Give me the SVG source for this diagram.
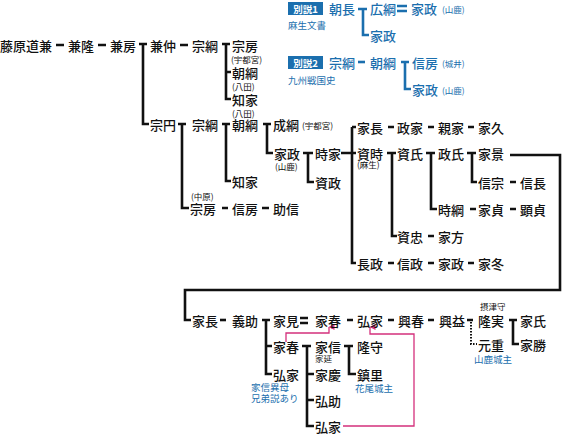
<svg xmlns="http://www.w3.org/2000/svg" width="565" height="435" viewBox="0 0 565 435">
<defs>
<style>
text{font-family:"Noto Sans CJK JP","Noto Sans CJK SC",sans-serif;dominant-baseline:central}
.t{font-size:13px;fill:#111;font-weight:500}
.s{font-size:8.5px;fill:#111}
.bt{font-size:13px;fill:#1b6fae;font-weight:500}
.bs{font-size:9.5px;fill:#1b6fae}
.bp{font-size:8.5px;fill:#1b6fae}
.bx{font-size:9.5px;fill:#fff;font-weight:bold;text-anchor:middle}
.ln{stroke:#111;stroke-width:2.6;fill:none}
.bl{stroke:#1b6fae;stroke-width:2.6;fill:none}
.pk{stroke:#d4307c;stroke-width:1.3;fill:none}
.dt{stroke:#111;stroke-width:2;fill:none;stroke-dasharray:1.5 1.5}
</style>
<marker id="ah" viewBox="0 0 6 6" refX="3" refY="0.5" markerWidth="6" markerHeight="6" orient="auto-start-reverse" markerUnits="userSpaceOnUse">
<path d="M0,6 L3,0 L6,6 Z" fill="#d4307c"/>
</marker>
</defs>
<rect width="565" height="435" fill="#fff"/>

<g id="connectors">
<path class="ln" d="M56,45H64M98,45H106M180,45H188"/>
<path class="ln" d="M139,44H147M143,44V124H149"/>
<path class="ln" d="M222,44H230M226,44V99H231M226,72H231"/>
<path class="ln" d="M178,124H186M182,124V208H189"/>
<path class="ln" d="M222,124H230M226,124V181H231"/>
<path class="ln" d="M263,124H271M267,124V153H273"/>
<path class="ln" d="M303,153H313M308,153V182H314"/>
<path class="ln" d="M222,208H228M262,208H269"/>
<path class="ln" d="M341,153H356M352,127H356M352,127V263H356"/>
<path class="ln" d="M388,127H394M428,127H434M468,127H474"/>
<path class="ln" d="M387,153H396M392,153V236H397"/>
<path class="ln" d="M426,153H435M431,153V209H437"/>
<path class="ln" d="M467,153H476M472,153V182H477"/>
<path class="ln" d="M510,182H516M470,209H476M510,209H516M428,236H434"/>
<path class="ln" d="M388,263H394M428,263H434M468,263H474"/>
<path class="ln" d="M510,155H560V290H185V320H191"/>
<path class="ln" d="M220,320H226"/>
<path class="ln" d="M262,320H270M266,320V374H272M266,346H272"/>
<path class="ln" d="M300,318H308M300,323H308"/>
<path class="ln" d="M347,320H353M388,320H394M428,320H434M467,320H473"/>
<path class="dt" d="M471,322V344H477"/>
<path class="ln" d="M509,320H517M513,320V344H519"/>
<path class="ln" d="M302,346H311M307,346V426H314M307,374H314M307,400H314"/>
<path class="ln" d="M344,346H353M349,346V374H356"/>
<path class="pk" d="M286,342V333H329V327" marker-end="url(#ah)"/>
<path class="pk" d="M343,426H414V334H370V327" marker-end="url(#ah)"/>
<path class="bl" d="M358,9H367M363,9V35H369"/>
<path class="bl" d="M397,6H407M397,11H407"/>
<path class="bl" d="M358,62H365"/>
<path class="bl" d="M401,62H409M405,62V89H411"/>
</g>

<g id="n1"><text class="t" x="0" y="45">藤原道兼</text></g>
<g id="n2"><text class="t" x="68" y="45">兼隆</text></g>
<g id="n3"><text class="t" x="110" y="45">兼房</text></g>
<g id="n4"><text class="t" x="150" y="45">兼仲</text></g>
<g id="n5"><text class="t" x="192" y="45">宗綱</text></g>
<g id="n6"><text class="t" x="232" y="45">宗房</text><text class="s" x="231" y="59">(宇都宮)</text></g>
<g id="n7"><text class="t" x="232" y="72">朝綱</text><text class="s" x="232" y="86">(八田)</text></g>
<g id="n8"><text class="t" x="232" y="99">知家</text><text class="s" x="232" y="113">(八田)</text></g>

<g id="n9"><text class="t" x="150" y="124">宗円</text></g>
<g id="n10"><text class="t" x="192" y="124">宗綱</text></g>
<g id="n11"><text class="t" x="232" y="124">朝綱</text></g>
<g id="n12"><text class="t" x="273" y="124">成綱</text><text class="s" x="302" y="125">(宇都宮)</text></g>
<g id="n13"><text class="t" x="274" y="153">家政</text><text class="s" x="275" y="166">(山鹿)</text></g>
<g id="n14"><text class="t" x="315" y="153">時家</text></g>
<g id="n15"><text class="t" x="315" y="182">資政</text></g>
<g id="n16"><text class="t" x="232" y="181">知家</text></g>
<g id="n17"><text class="s" x="191" y="196">(中原)</text><text class="t" x="190" y="208">宗房</text></g>
<g id="n18"><text class="t" x="232" y="208">信房</text></g>
<g id="n19"><text class="t" x="273" y="208">助信</text></g>

<g id="n20"><text class="t" x="357" y="127">家長</text></g>
<g id="n21"><text class="t" x="397" y="127">政家</text></g>
<g id="n22"><text class="t" x="438" y="127">親家</text></g>
<g id="n23"><text class="t" x="478" y="127">家久</text></g>
<g id="n24"><text class="t" x="357" y="153">資時</text><text class="s" x="357" y="164">(麻生)</text></g>
<g id="n25"><text class="t" x="397" y="153">資氏</text></g>
<g id="n26"><text class="t" x="438" y="153">政氏</text></g>
<g id="n27"><text class="t" x="478" y="153">家景</text></g>
<g id="n28"><text class="t" x="478" y="182">信宗</text></g>
<g id="n29"><text class="t" x="520" y="182">信長</text></g>
<g id="n30"><text class="t" x="438" y="209">時綱</text></g>
<g id="n31"><text class="t" x="478" y="209">家貞</text></g>
<g id="n32"><text class="t" x="520" y="209">顕貞</text></g>
<g id="n33"><text class="t" x="397" y="236">資忠</text></g>
<g id="n34"><text class="t" x="438" y="236">家方</text></g>
<g id="n35"><text class="t" x="357" y="263">長政</text></g>
<g id="n36"><text class="t" x="397" y="263">信政</text></g>
<g id="n37"><text class="t" x="438" y="263">家政</text></g>
<g id="n38"><text class="t" x="478" y="263">家冬</text></g>

<g id="n39"><text class="t" x="192" y="320">家長</text></g>
<g id="n40"><text class="t" x="232" y="320">義助</text></g>
<g id="n41"><text class="t" x="273" y="320">家見</text></g>
<g id="n42"><text class="t" x="315" y="320">家春</text></g>
<g id="n43"><text class="t" x="357" y="320">弘家</text></g>
<g id="n44"><text class="t" x="398" y="320">興春</text></g>
<g id="n45"><text class="t" x="439" y="320">興益</text></g>
<g id="n46"><text class="s" x="480" y="306">摂津守</text><text class="t" x="478" y="320">隆実</text></g>
<g id="n47"><text class="t" x="520" y="320">家氏</text></g>
<g id="n48"><text class="t" x="478" y="344">元重</text><text class="bs" x="474" y="359">山鹿城主</text></g>
<g id="n49"><text class="t" x="520" y="344">家勝</text></g>
<g id="n50"><text class="t" x="273" y="346">家春</text></g>
<g id="n51"><text class="t" x="315" y="346">家信</text><text class="s" x="315" y="358">家延</text></g>
<g id="n52"><text class="t" x="357" y="346">隆守</text></g>
<g id="n53"><text class="t" x="357" y="374">鎮里</text><text class="bs" x="355" y="388">花尾城主</text></g>
<g id="n54"><text class="t" x="273" y="374">弘家</text><text class="bs" x="251" y="387">家信異母</text><text class="bs" x="251" y="398">兄弟説あり</text></g>
<g id="n55"><text class="t" x="315" y="374">家慶</text></g>
<g id="n56"><text class="t" x="315" y="400">弘助</text></g>
<g id="n57"><text class="t" x="315" y="426">弘家</text></g>

<g id="alt1">
<rect x="288" y="2" width="35" height="13" fill="#1b6fae"/>
<text class="bx" x="305.5" y="8.5">別説1</text>
<text class="bs" x="288" y="25">麻生文書</text>
</g>
<g id="a1"><text class="bt" x="329" y="8">朝長</text></g>
<g id="a2"><text class="bt" x="370" y="8">広綱</text></g>
<g id="a3"><text class="bt" x="411" y="8">家政</text><text class="bp" x="442" y="9">(山鹿)</text></g>
<g id="a4"><text class="bt" x="370" y="35">家政</text></g>
<g id="alt2">
<rect x="288" y="56" width="35" height="13" fill="#1b6fae"/>
<text class="bx" x="305.5" y="62.5">別説2</text>
<text class="bs" x="288" y="80">九州戦国史</text>
</g>
<g id="b1"><text class="bt" x="329" y="62">宗綱</text></g>
<g id="b2"><text class="bt" x="370" y="62">朝綱</text></g>
<g id="b3"><text class="bt" x="412" y="62">信房</text><text class="bp" x="442" y="63">(城井)</text></g>
<g id="b4"><text class="bt" x="412" y="89">家政</text><text class="bp" x="442" y="90">(山鹿)</text></g>
</svg>
